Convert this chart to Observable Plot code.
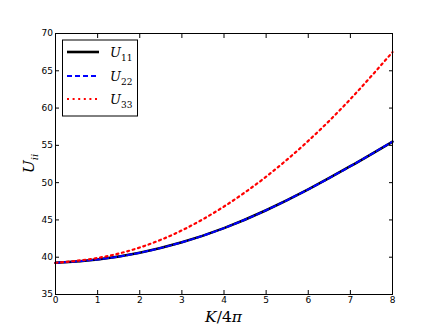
<!DOCTYPE html>
<html><head><meta charset="utf-8">
<script src="https://cdn.jsdelivr.net/npm/d3@7"></script>
<script src="https://cdn.jsdelivr.net/npm/@observablehq/plot@0.6"></script>
<style>
body{margin:0;background:#fff}
#wrap{position:relative;width:436px;height:327px}
#over{position:absolute;left:0;top:0;pointer-events:none}
</style>
</head><body><div id="wrap"></div>
<script>
const kValues = [0, 1, 2, 3, 4, 5, 6, 7, 8];
const u11 = [39.25, 39.7, 40.6, 42.0, 43.9, 46.3, 49.1, 52.2, 55.5];
const u22 = [39.25, 39.7, 40.6, 42.0, 43.9, 46.3, 49.1, 52.2, 55.5];
const u33 = [39.25, 39.9, 41.3, 43.6, 46.8, 50.8, 55.6, 61.2, 67.5];
const xTicks = [0, 1, 2, 3, 4, 5, 6, 7, 8];
const yTicks = [35, 40, 45, 50, 55, 60, 65, 70];
const seriesNames = ["U11", "U22", "U33"];
const seriesSubs = ["11", "22", "33"];
const xLabel = ["K", "/4", "π"];
const yLabel = ["U", "ii"];

const styles = {
  U11: {stroke: "black", strokeWidth: 2.6},
  U22: {stroke: "#0000ff", strokeWidth: 2, strokeDasharray: "5,3"},
  U33: {stroke: "#ff0000", strokeWidth: 2.2, strokeDasharray: "2,3.6"}
};

const rows = [];
[u11, u22, u33].forEach((arr, i) => arr.forEach((v, j) => rows.push({k: kValues[j], u: v, s: seriesNames[i]})));

const W = 436, H = 327, mL = 55, mR = 44, mT = 33, mB = 33;

const chart = Plot.plot({
  width: W, height: H,
  marginLeft: mL, marginRight: mR, marginTop: mT, marginBottom: mB,
  x: {domain: [0, 8]},
  y: {domain: [35, 70]},
  style: {fontFamily: "DejaVu Sans", fontSize: "9px", color: "black", background: "white"},
  marks: [
    ...seriesNames.map(s => Plot.line(rows.filter(d => d.s === s), {x: "k", y: "u", curve: "natural", ...styles[s]})),
    Plot.frame({stroke: "black", strokeWidth: 1}),
    Plot.axisX({ticks: xTicks, tickSize: -4, tickPadding: 6, label: null, tickFormat: d => String(d)}),
    Plot.axisX({anchor: "top", ticks: xTicks, tickSize: -4, label: null, tickFormat: () => ""}),
    Plot.axisY({ticks: yTicks, tickSize: -4, tickPadding: 6.5, label: null, tickFormat: d => String(d)}),
    Plot.axisY({anchor: "right", ticks: yTicks, tickSize: -4, label: null, tickFormat: () => ""})
  ]
});
const wrap = document.getElementById("wrap");
wrap.appendChild(chart);

// overlay: axis labels with math formatting, and legend
const ns = "http://www.w3.org/2000/svg";
const over = document.createElementNS(ns, "svg");
over.setAttribute("id", "over");
over.setAttribute("width", W); over.setAttribute("height", H);
wrap.appendChild(over);
function el(tag, attrs, parent) {
  const e = document.createElementNS(ns, tag);
  for (const k in attrs) e.setAttribute(k, attrs[k]);
  (parent || over).appendChild(e);
  return e;
}
const serif = "DejaVu Serif";
// x label
const xl = el("text", {x: (mL + W - mR) / 2, y: 322, "text-anchor": "middle", "font-family": serif, "font-size": 15.5});
el("tspan", {"font-style": "italic"}, xl).textContent = xLabel[0];
el("tspan", {}, xl).textContent = xLabel[1];
el("tspan", {"font-style": "italic"}, xl).textContent = xLabel[2];
// y label
const yl = el("text", {transform: `translate(34,${(mT + H - mB) / 2}) rotate(-90)`, "text-anchor": "middle", "font-family": serif, "font-size": 15.5});
el("tspan", {"font-style": "italic"}, yl).textContent = yLabel[0];
el("tspan", {"font-style": "italic", "font-size": 10, dy: 4}, yl).textContent = yLabel[1];

// legend
const lg = {x: 62, y: 39.5, w: 75, h: 76};
el("rect", {x: lg.x + 0.5, y: lg.y + 0.5, width: lg.w, height: lg.h, fill: "white", stroke: "black", "stroke-width": 1});
const rowsY = [52, 76, 99];
seriesNames.forEach((s, i) => {
  const st = styles[s];
  const attrs = {x1: 67, x2: 99, y1: rowsY[i], y2: rowsY[i], stroke: st.stroke, "stroke-width": st.strokeWidth};
  if (st.strokeDasharray) attrs["stroke-dasharray"] = st.strokeDasharray;
  el("line", attrs);
  const t = el("text", {x: 110, y: rowsY[i] + 5, "font-family": serif, "font-size": 13});
  el("tspan", {"font-style": "italic"}, t).textContent = "U";
  el("tspan", {"font-size": 9, dy: 3.5}, t).textContent = seriesSubs[i];
});
</script>
</body></html>
